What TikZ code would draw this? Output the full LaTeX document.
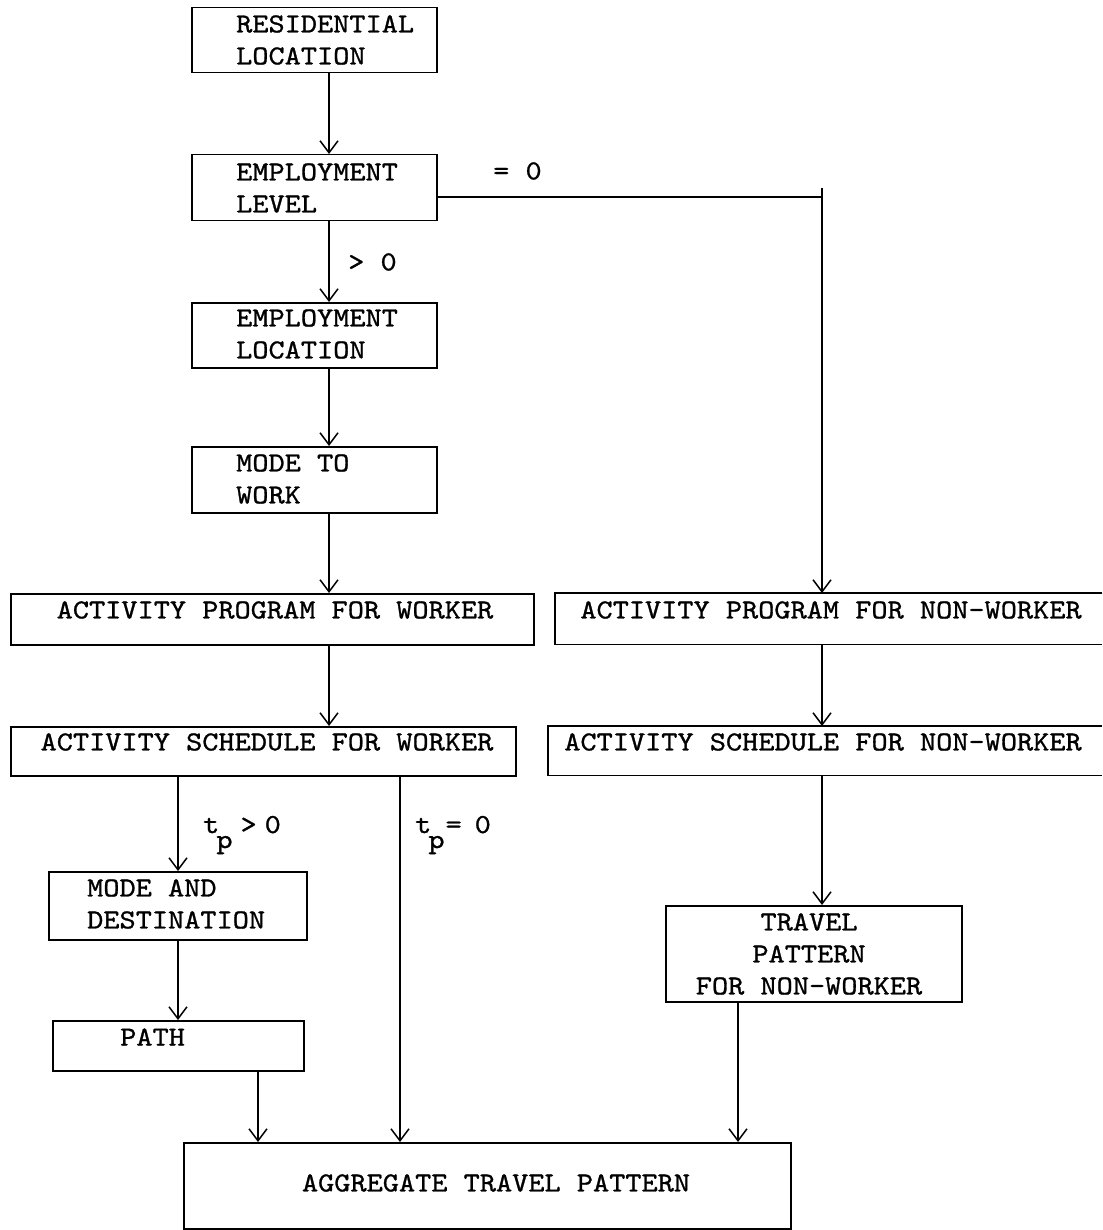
\documentclass[tikz,border=0pt]{standalone}
\usepackage{fontspec}
\usetikzlibrary{arrows.meta}
\newfontfamily\tw[FakeStretch=1.12,FakeBold=1]{lmmono10-regular.otf}
\begin{document}
\begin{tikzpicture}[x=1pt,y=-1pt,
  box/.style={draw, line width=1.5pt, rectangle, inner sep=0pt, anchor=north west},
  openbox/.style={draw=none, rectangle, inner sep=0pt, anchor=north west},
  bline/.style={line width=1.5pt},
  txt/.style={font=\tw\fontsize{27.5}{32}\selectfont, inner sep=0pt},
  arr/.style={line width=1.3pt, -{Straight Barb[length=12pt,width=18pt,line width=1.5pt]}},
  ln/.style={line width=1.3pt}]
\useasboundingbox (0,0) rectangle (1102,1230);
% boxes
\node[box, minimum width=245pt, minimum height=65pt] (res) at (191,7) {};
\node[box, minimum width=245pt, minimum height=66pt] (lev) at (191,154) {};
\node[box, minimum width=245pt, minimum height=65pt] (loc) at (191,302) {};
\node[box, minimum width=245pt, minimum height=66pt] (mode) at (191,446) {};
\node[box, minimum width=523pt, minimum height=51pt] (pw) at (10,593) {};
\node[openbox, minimum width=547pt, minimum height=51pt] (pnw) at (555,593) {};
\draw[bline] (pnw.north east) -- (pnw.north west) -- (pnw.south west) -- (pnw.south east);
\node[box, minimum width=505pt, minimum height=49pt] (sw) at (10,726) {};
\node[openbox, minimum width=554pt, minimum height=49pt] (snw) at (548,726) {};
\draw[bline] (snw.north east) -- (snw.north west) -- (snw.south west) -- (snw.south east);
\node[box, minimum width=258pt, minimum height=68pt] (md) at (48,871) {};
\node[box, minimum width=251pt, minimum height=50pt] (path) at (52,1020) {};
\node[box, minimum width=296pt, minimum height=96pt] (tp) at (665,905) {};
\node[box, minimum width=607pt, minimum height=86pt] (agg) at (183,1142) {};
% texts
\node[txt, anchor=west, align=left] (res-t) at (236,40) {RESIDENTIAL\\LOCATION};
\node[txt, anchor=west, align=left] (lev-t) at (236,188) {EMPLOYMENT\\LEVEL};
\node[txt, anchor=west, align=left] (loc-t) at (236,334) {EMPLOYMENT\\LOCATION};
\node[txt, anchor=west, align=left] (mode-t) at (236,479) {MODE TO\\WORK};
\node[txt] (pw-t) at (275,610) {ACTIVITY PROGRAM FOR WORKER};
\node[txt] (pnw-t) at (831,610) {ACTIVITY PROGRAM FOR NON-WORKER};
\node[txt] (sw-t) at (267,742) {ACTIVITY SCHEDULE FOR WORKER};
\node[txt] (snw-t) at (823,742) {ACTIVITY SCHEDULE FOR NON-WORKER};
\node[txt, anchor=west, align=left] (md-t) at (87,904) {MODE AND\\DESTINATION};
\node[txt, anchor=west] (path-t) at (120,1037) {PATH};
\node[txt, align=center] (tp-t) at (809,954) {TRAVEL\\PATTERN\\FOR NON-WORKER};
\node[txt] (agg-t) at (496,1183) {AGGREGATE TRAVEL PATTERN};
% labels
\node[txt, anchor=west] (gt) at (348,262) {> 0};
\node[txt, anchor=west] (eq) at (493,171) {= 0};
\node[txt, anchor=base west] (tp1) at (203,833) {t\kern-3pt\raisebox{-15pt}{p}\kern8pt>\kern8pt 0};
\node[txt, anchor=base west] (tp2) at (415,833) {t\kern-3pt\raisebox{-15pt}{p}\kern1pt=\kern13pt 0};
% connectors
\coordinate (sp) at (329,0);
\draw[arr] (res.south -| sp) -- (lev.north -| sp);
\draw[arr] (lev.south -| sp) -- (loc.north -| sp);
\draw[arr] (loc.south -| sp) -- (mode.north -| sp);
\draw[arr] (mode.south -| sp) -- (pw.north -| sp);
\draw[arr] (pw.south -| sp) -- (sw.north -| sp);
\coordinate (rx) at (822,0);
\coordinate (eqy) at (0,197);
\coordinate (corner) at (822,188);
\draw[ln] (lev.east |- eqy) -- (eqy -| rx);
\draw[arr] (corner) -- (pnw.north -| rx);
\draw[arr] (pnw.south -| rx) -- (snw.north -| rx);
\draw[arr] (snw.south -| rx) -- (tp.north -| rx);
\coordinate (lx) at (178,0);
\draw[arr] (sw.south -| lx) -- (md.north -| lx);
\draw[arr] (md.south -| lx) -- (path.north -| lx);
\coordinate (mx) at (400,0);
\draw[arr] (sw.south -| mx) -- (agg.north -| mx);
\coordinate (px) at (258,0);
\draw[arr] (path.south -| px) -- (agg.north -| px);
\coordinate (tx) at (738,0);
\draw[arr] (tp.south -| tx) -- (agg.north -| tx);
\end{tikzpicture}
\end{document}
